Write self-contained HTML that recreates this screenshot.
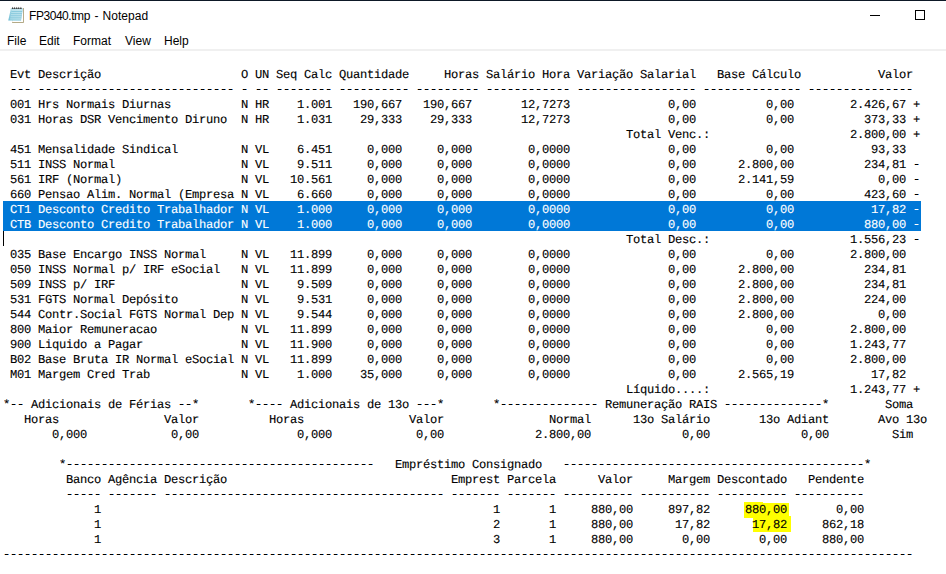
<!DOCTYPE html>
<html><head><meta charset="utf-8"><title>FP3040.tmp - Notepad</title>
<style>
html,body{margin:0;padding:0;}
body{width:946px;height:574px;overflow:hidden;background:#fff;position:relative;font-family:"Liberation Sans",sans-serif;}
#topb{position:absolute;left:0;top:0;width:946px;height:1px;background:#0d1826;}
#title{position:absolute;left:29px;top:9px;font-size:12px;line-height:14px;color:#000;white-space:pre;}
#title span{position:absolute;top:0;}
#menu{position:absolute;left:0;top:32px;height:19px;width:946px;font-size:12px;line-height:19px;color:#000;}
#menu span{position:absolute;top:0;white-space:pre;}
#sep{position:absolute;left:0;top:49px;width:946px;height:2px;background:#f0f0f0;}
#min{position:absolute;left:870px;top:15px;width:10px;height:1px;background:#000;}
#max{position:absolute;left:915px;top:10px;width:8px;height:8px;border:1px solid #000;}
#ico{position:absolute;left:0;top:0;}
.l{position:absolute;left:3px;height:15px;line-height:15px;white-space:pre;font-family:"Liberation Mono",monospace;font-size:12.15px;letter-spacing:-0.28564453125px;font-weight:normal;color:#000;text-rendering:geometricPrecision;-webkit-text-stroke:0.12px currentColor;margin-top:2px;}
.selbg{position:absolute;left:3px;top:201px;width:918px;height:30px;background:#0078d7;}
.sel{color:#fff;}
.l i{font-style:normal;color:transparent;-webkit-text-stroke:0;}
#caret{position:absolute;left:3px;top:231px;width:1px;height:15px;background:#000;}
.hl{position:absolute;background:#ffff00;}
.d{position:absolute;height:1px;background:repeating-linear-gradient(90deg,transparent 0,transparent 1px,#f9b870 1px,#f9b870 2px,#000 2px,#000 5px,#3c8fe6 5px,#3c8fe6 6px,transparent 6px,transparent 7px);}
.dw{background:repeating-linear-gradient(90deg,transparent 0,transparent 1px,rgba(255,255,255,.35) 1px,rgba(255,255,255,.35) 2px,#fff 2px,#fff 5px,rgba(255,255,255,.5) 5px,rgba(255,255,255,.5) 6px,transparent 6px,transparent 7px);}
</style></head><body>
<div id="topb"></div>
<svg id="ico" width="30" height="30" viewBox="0 0 30 30">
<defs>
<linearGradient id="gb" x1="0" y1="0" x2="1" y2="0"><stop offset="0" stop-color="#6fbdd5"/><stop offset="0.18" stop-color="#94d0e1"/><stop offset="0.75" stop-color="#a9dae7"/><stop offset="1" stop-color="#8ecbdd"/></linearGradient>
<linearGradient id="gt" x1="0" y1="0" x2="0" y2="1"><stop offset="0" stop-color="#ffffff" stop-opacity="0.5"/><stop offset="0.3" stop-color="#ffffff" stop-opacity="0.05"/><stop offset="1" stop-color="#3aa0c0" stop-opacity="0.12"/></linearGradient>
</defs>
<path d="M13 8 H23.8 V22.8 H12.1 Z" fill="#9a8c5e"/>
<path d="M13 8 H23.1 V22.1 H12.1 Z" fill="#ffffff"/>
<path d="M11 8 L23 8.1 L21 20.8 L8.3 20.6 Z" fill="url(#gb)"/>
<path d="M11 8 L23 8.1 L21 20.8 L8.3 20.6 Z" fill="url(#gt)"/>
<path d="M11.6 11.5 H22.2 M11.2 13.6 H21.9 M10.8 15.7 H21.6 M10.4 17.8 H21.3" stroke="#84c6da" stroke-width="0.8" fill="none"/>
<path d="M11.9 10.5 H22.3 M11.4 12.6 H22 M11 14.7 H21.7 M10.6 16.8 H21.4 M10.2 18.9 H21.1" stroke="#bfe4ee" stroke-width="0.8" fill="none"/>
<path d="M11.7 9 L12.7 6.8 L13.7 9 Z M13.7 9 L14.7 6.8 L15.7 9 Z M15.8 9 L16.8 6.8 L17.8 9 Z M17.8 9 L18.8 6.8 L19.8 9 Z M19.9 9 L20.9 6.8 L21.9 9 Z" fill="#3a3a3a"/>
</svg>
<div id="title"><span style="left:0;letter-spacing:-0.45px">FP3040.tmp</span><span style="left:65.6px">-</span><span style="left:73.5px;letter-spacing:0.05px">Notepad</span></div>
<div id="min"></div><div id="max"></div>
<div id="menu"><span style="left:7px">File</span><span style="left:39px">Edit</span><span style="left:73px">Format</span><span style="left:125px">View</span><span style="left:164px">Help</span></div>
<div id="sep"></div>
<div class="selbg"></div>
<div class="hl" style="left:744px;top:502px;width:19px;height:16px"></div><div class="hl" style="left:763px;top:503px;width:26px;height:15px"></div>
<div class="hl" style="left:753px;top:516px;width:38px;height:16px"></div>
<div class="l" style="top:66px"> Evt Descrição                    O UN Seq Calc Quantidade     Horas Salário Hora Variação Salarial   Base Cálculo           Valor</div>
<div class="l" style="top:81px"> <i>---</i> <i>----------------------------</i> <i>-</i> <i>--</i> <i>--------</i> <i>----------</i> <i>---------</i> <i>------------</i> <i>-----------------</i> <i>--------------</i> <i>---------------</i></div>
<div class="l" style="top:96px"> 001 Hrs Normais Diurnas          N HR    1.001   190,667   190,667       12,7273              0,00          0,00        2.426,67 +</div>
<div class="l" style="top:111px"> 031 Horas DSR Vencimento Diruno  N HR    1.031    29,333    29,333       12,7273              0,00          0,00          373,33 +</div>
<div class="l" style="top:126px">                                                                                         Total Venc.:                    2.800,00 +</div>
<div class="l" style="top:141px"> 451 Mensalidade Sindical         N VL    6.451     0,000     0,000        0,0000              0,00          0,00           93,33</div>
<div class="l" style="top:156px"> 511 INSS Normal                  N VL    9.511     0,000     0,000        0,0000              0,00      2.800,00          234,81 <i>-</i></div>
<div class="l" style="top:171px"> 561 IRF (Normal)                 N VL   10.561     0,000     0,000        0,0000              0,00      2.141,59            0,00 <i>-</i></div>
<div class="l" style="top:186px"> 660 Pensao Alim. Normal (Empresa N VL    6.660     0,000     0,000        0,0000              0,00          0,00          423,60 <i>-</i></div>
<div class="l sel" style="top:201px"> CT1 Desconto Credito Trabalhador N VL    1.000     0,000     0,000        0,0000              0,00          0,00           17,82 <i>-</i></div>
<div class="l sel" style="top:216px"> CTB Desconto Credito Trabalhador N VL    1.000     0,000     0,000        0,0000              0,00          0,00          880,00 <i>-</i></div>
<div class="l" style="top:231px">                                                                                         Total Desc.:                    1.556,23 <i>-</i></div>
<div class="l" style="top:246px"> 035 Base Encargo INSS Normal     N VL   11.899     0,000     0,000        0,0000              0,00          0,00        2.800,00</div>
<div class="l" style="top:261px"> 050 INSS Normal p/ IRF eSocial   N VL   11.899     0,000     0,000        0,0000              0,00      2.800,00          234,81</div>
<div class="l" style="top:276px"> 509 INSS p/ IRF                  N VL    9.509     0,000     0,000        0,0000              0,00      2.800,00          234,81</div>
<div class="l" style="top:291px"> 531 FGTS Normal Depósito         N VL    9.531     0,000     0,000        0,0000              0,00      2.800,00          224,00</div>
<div class="l" style="top:306px"> 544 Contr.Social FGTS Normal Dep N VL    9.544     0,000     0,000        0,0000              0,00      2.800,00            0,00</div>
<div class="l" style="top:321px"> 800 Maior Remuneracao            N VL   11.899     0,000     0,000        0,0000              0,00          0,00        2.800,00</div>
<div class="l" style="top:336px"> 900 Liquido a Pagar              N VL   11.900     0,000     0,000        0,0000              0,00          0,00        1.243,77</div>
<div class="l" style="top:351px"> B02 Base Bruta IR Normal eSocial N VL   11.899     0,000     0,000        0,0000              0,00          0,00        2.800,00</div>
<div class="l" style="top:366px"> M01 Margem Cred Trab             N VL    1.000    35,000     0,000        0,0000              0,00      2.565,19           17,82</div>
<div class="l" style="top:381px">                                                                                         Líquido....:                    1.243,77 +</div>
<div class="l" style="top:396px">*<i>--</i> Adicionais de Férias <i>--</i>*       *<i>----</i> Adicionais de 13o <i>---</i>*       *<i>--------------</i> Remuneração RAIS <i>--------------</i>*        Soma</div>
<div class="l" style="top:411px">   Horas               Valor          Horas               Valor               Normal      13o Salário       13o Adiant       Avo 13o</div>
<div class="l" style="top:426px">       0,000            0,00              0,000            0,00             2.800,00             0,00             0,00         Sim</div>
<div class="l" style="top:456px">        *<i>--------------------------------------------</i>   Empréstimo Consignado   <i>-------------------------------------------</i>*</div>
<div class="l" style="top:471px">         Banco Agência Descrição                                Emprest Parcela      Valor     Margem Descontado   Pendente</div>
<div class="l" style="top:486px">         <i>-----</i> <i>-------</i> <i>----------------------------------------</i> <i>-------</i> <i>-------</i> <i>----------</i> <i>----------</i> <i>----------</i> <i>----------</i></div>
<div class="l" style="top:501px">             1                                                        1       1     880,00     897,82     880,00       0,00</div>
<div class="l" style="top:516px">             1                                                        2       1     880,00      17,82      17,82     862,18</div>
<div class="l" style="top:531px">             1                                                        3       1     880,00       0,00       0,00     880,00</div>
<div class="l" style="top:546px"><i>----------------------------------------------------------------------------------------------------------------------------------</i></div>
<div class="d" style="left:10px;top:89px;width:21px"></div>
<div class="d" style="left:38px;top:89px;width:196px"></div>
<div class="d" style="left:241px;top:89px;width:7px"></div>
<div class="d" style="left:255px;top:89px;width:14px"></div>
<div class="d" style="left:276px;top:89px;width:56px"></div>
<div class="d" style="left:339px;top:89px;width:70px"></div>
<div class="d" style="left:416px;top:89px;width:63px"></div>
<div class="d" style="left:486px;top:89px;width:84px"></div>
<div class="d" style="left:577px;top:89px;width:119px"></div>
<div class="d" style="left:703px;top:89px;width:98px"></div>
<div class="d" style="left:808px;top:89px;width:105px"></div>
<div class="d" style="left:913px;top:164px;width:7px"></div>
<div class="d" style="left:913px;top:179px;width:7px"></div>
<div class="d" style="left:913px;top:194px;width:7px"></div>
<div class="d dw" style="left:913px;top:209px;width:7px"></div>
<div class="d dw" style="left:913px;top:224px;width:7px"></div>
<div class="d" style="left:913px;top:239px;width:7px"></div>
<div class="d" style="left:10px;top:404px;width:14px"></div>
<div class="d" style="left:178px;top:404px;width:14px"></div>
<div class="d" style="left:255px;top:404px;width:28px"></div>
<div class="d" style="left:416px;top:404px;width:21px"></div>
<div class="d" style="left:500px;top:404px;width:98px"></div>
<div class="d" style="left:724px;top:404px;width:98px"></div>
<div class="d" style="left:66px;top:464px;width:308px"></div>
<div class="d" style="left:563px;top:464px;width:301px"></div>
<div class="d" style="left:66px;top:494px;width:35px"></div>
<div class="d" style="left:108px;top:494px;width:49px"></div>
<div class="d" style="left:164px;top:494px;width:280px"></div>
<div class="d" style="left:451px;top:494px;width:49px"></div>
<div class="d" style="left:507px;top:494px;width:49px"></div>
<div class="d" style="left:563px;top:494px;width:70px"></div>
<div class="d" style="left:640px;top:494px;width:70px"></div>
<div class="d" style="left:717px;top:494px;width:70px"></div>
<div class="d" style="left:794px;top:494px;width:70px"></div>
<div class="d" style="left:3px;top:554px;width:910px"></div>
<div id="caret"></div>
</body></html>
